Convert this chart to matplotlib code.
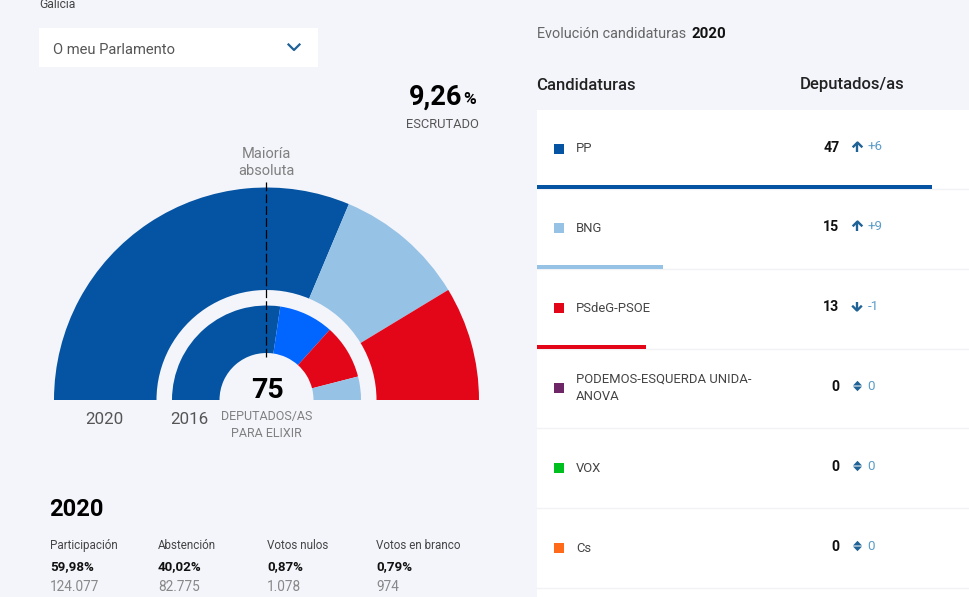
import numpy as np
import matplotlib
matplotlib.use('Agg')
import matplotlib.pyplot as plt

plt.rcParams['font.family'] = ['Roboto', 'DejaVu Sans']

# seats in the two half circles
seats_2020 = [47, 15, 13]
colors_2020 = ['#0454a3', '#96c2e6', '#e30618']
seats_2016 = [41, 14, 14, 6]
colors_2016 = ['#0454a3', '#0066ff', '#e30618', '#96c2e6']
total_seats = 75

# table
parties = ['PP', 'BNG', 'PSdeG-PSOE', 'PODEMOS-ESQUERDA UNIDA-\nANOVA', 'VOX', 'Cs']
party_seats = [47, 15, 13, 0, 0, 0]
party_delta = [6, 9, -1, 0, 0, 0]
delta_labels = ['+6', '+9', '-1', '0', '0', '0']
party_colors = ['#0454a3', '#96c2e6', '#e30618', '#6e2667', '#00c020', '#ff6a1a']
row_centers = [149, 228, 308, 388, 468, 548]
row_lines = [189, 269, 349, 428, 508, 588]

# summary below the chart
stat_names = ['Participación', 'Abstención', 'Votos nulos', 'Votos en branco']
stat_pct = ['59,98%', '40,02%', '0,87%', '0,79%']
stat_votes = ['124.077', '82.775', '1.078', '974']
stat_x = [50, 158, 267, 376]

BG = '#f4f5fa'
H = 597
CX = 266.5
CY = 400
DARK = '#111111'
TEXT = '#444444'
GREY = '#808080'
ICON = '#1f6396'
DELTA = '#5b9cc9'


def Y(y):
    return H - y


def arrow(x, y, up):
    # stem and open head, up or down
    s = -1 if up else 1
    ax.plot([x, x], [Y(y - 4.5), Y(y + 4.5)], color=ICON, lw=1.7, solid_capstyle='butt', zorder=4)
    ax.plot([x - 4, x, x + 4], [Y(y + s * 0.5), Y(y + s * 4.5), Y(y + s * 0.5)],
            color=ICON, lw=1.7, zorder=4)


def updown(x, y):
    ax.fill([x - 4.5, x + 4.5, x], [Y(y - 0.5), Y(y - 0.5), Y(y - 5.2)], color=ICON, lw=0, zorder=4)
    ax.fill([x - 4.5, x + 4.5, x], [Y(y + 0.5), Y(y + 0.5), Y(y + 5.2)], color=ICON, lw=0, zorder=4)


fig = plt.figure(figsize=(9.7, 5.97), dpi=100, facecolor=BG)
ax = fig.add_axes([0, 0, 1, 1])

# half circles
ax.pie(
    np.array(seats_2020) / (2. * total_seats), normalize=False, colors=colors_2020,
    startangle=180, counterclock=False, radius=212.5, center=(CX, Y(CY)),
    wedgeprops=dict(width=102.5, linewidth=0), frame=True
)
ax.pie(
    np.array(seats_2016) / (2. * total_seats), normalize=False, colors=colors_2016,
    startangle=180, counterclock=False, radius=94.5, center=(CX, Y(CY)),
    wedgeprops=dict(width=47.5, linewidth=0), frame=True
)

ax.set_xlim(0, 970)
ax.set_ylim(0, H)
ax.set_aspect('auto')
ax.axis('off')

# majority line
ax.plot([266.5, 266.5], [Y(182), Y(359)], color='black', lw=0.9, dashes=(7, 2.5), zorder=5)

# left column
ax.text(39.5, Y(4), 'Galicia', fontsize=8.7, color=TEXT, va='center')
ax.fill_between([39, 318], Y(67), Y(28), color='white', lw=0)
ax.text(53, Y(50), 'O meu Parlamento', fontsize=10.6, color='#555555', va='center')
ax.plot([288.5, 294, 299.5], [Y(44.5), Y(50), Y(44.5)], color=ICON, lw=1.6)

ax.text(462, Y(105), '9,26', fontsize=19.5, fontweight='bold', color='black', ha='right', va='baseline')
ax.text(463, Y(104), '%', fontsize=12.5, fontweight='bold', color='black', ha='left', va='baseline')
ax.text(442.5, Y(124), 'ESCRUTADO', fontsize=9.3, color='#555555', ha='center', va='center')

ax.text(266.5, Y(154), 'Maioría', fontsize=10.5, color=GREY, ha='center', va='center')
ax.text(266.5, Y(171), 'absoluta', fontsize=10.5, color=GREY, ha='center', va='center')

ax.text(104.5, Y(419), '2020', fontsize=12.2, color='#555555', ha='center', va='center')
ax.text(189.5, Y(419), '2016', fontsize=12.2, color='#555555', ha='center', va='center')
ax.text(267.5, Y(391), str(total_seats), fontsize=20.5, fontweight='bold', color='black', ha='center', va='center')
ax.text(266.5, Y(416.5), 'DEPUTADOS/AS', fontsize=9, color=GREY, ha='center', va='center')
ax.text(266.5, Y(433.5), 'PARA ELIXIR', fontsize=9, color=GREY, ha='center', va='center')

ax.text(49, Y(510), '2020', fontsize=17, fontweight='bold', color='black', va='center')
for x, name, pct, votes in zip(stat_x, stat_names, stat_pct, stat_votes):
    ax.text(x, Y(545.5), name, fontsize=8.4, color=TEXT, va='center')
    ax.text(x, Y(566.5), pct, fontsize=9.6, fontweight='bold', color=DARK, va='center')
    ax.text(x, Y(587), votes, fontsize=9.8, color='#888888', va='center')

# right column, header
ax.text(537, Y(34.5), 'Evolución candidaturas', fontsize=10.4, color='#666666', va='center')
ax.text(692, Y(34.5), '2020', fontsize=10.8, fontweight='bold', color=DARK, va='center')
ax.text(536.5, Y(85), 'Candidaturas', fontsize=12, fontweight='medium', color='#222222', va='center')
ax.text(800, Y(85), 'Deputados/as', fontsize=12, fontweight='medium', color='#222222', va='center')

# table
ax.fill_between([537, 971], Y(598), Y(110), color='white', lw=0)
px_per_seat = 630. / total_seats
for i, name in enumerate(parties):
    yc = row_centers[i]
    ax.plot([537, 971], [Y(row_lines[i]), Y(row_lines[i])], color='#f1f2f6', lw=1)
    if party_seats[i] > 0:
        ax.barh(Y(row_lines[i] - 2), party_seats[i] * px_per_seat, height=4, left=537,
                color=party_colors[i], lw=0, zorder=3)
    ax.plot(559, Y(yc), marker='s', ms=7.6, color=party_colors[i], mew=0)
    ax.text(576, Y(yc if i else yc - 0.5), name, fontsize=9.4, color=TEXT, va='center', linespacing=1.4)
    ax.text(839.5, Y(yc - 1), str(party_seats[i]), fontsize=10.2, fontweight='bold', color=DARK, ha='right', va='center')

    # icon next to the change in seats
    d = party_delta[i]
    if d > 0:
        arrow(857.5, yc - 2, True)
    elif d < 0:
        arrow(857, yc - 2, False)
    else:
        updown(857.5, yc - 2)
    ax.text(867.5, Y(yc - 2), delta_labels[i], fontsize=9.6, color=DELTA, va='center')

fig.savefig('out.png', dpi=100, facecolor=BG)
